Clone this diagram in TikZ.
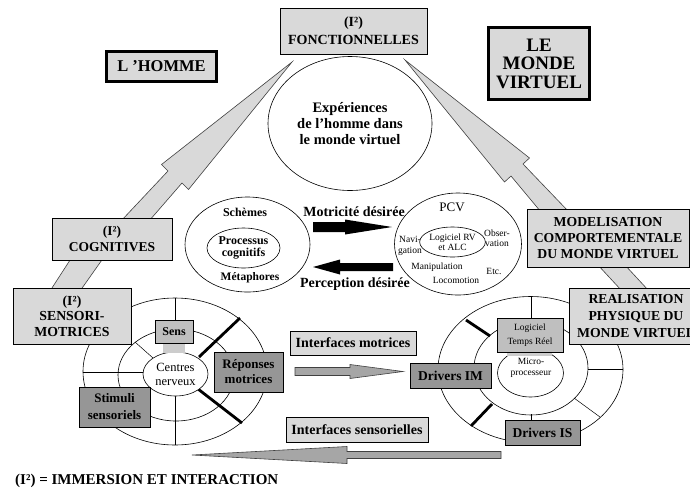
\documentclass[tikz,border=0pt]{standalone}
\usepackage{fontspec}
\setmainfont{Liberation Serif}
\usetikzlibrary{shapes.geometric}
\definecolor{boxlight}{HTML}{D9D9D9}
\definecolor{boxmid}{HTML}{BFBFBF}
\definecolor{boxstrip}{HTML}{CCCCCC}
\definecolor{boxdark}{HTML}{969696}
\definecolor{arrowgray}{HTML}{A6A6A6}
\definecolor{edgegray}{HTML}{404040}
\begin{document}
\begin{tikzpicture}[x=1pt,y=-1pt,
  box/.style={draw=black, line width=0.8pt, fill=boxlight, inner sep=0pt, align=center},
  midbox/.style={box, fill=boxmid},
  darkbox/.style={box, fill=boxdark},
  heavybox/.style={box, line width=3pt},
  ring/.style={draw=black, line width=0.6pt, ellipse, inner sep=0pt, align=center},
  bigarrow/.style={draw=edgegray, line width=0.6pt, fill=boxlight},
  grayarrow/.style={draw=edgegray, line width=0.6pt, fill=arrowgray},
  spoke/.style={draw=black, line width=0.5pt},
  heavyspoke/.style={draw=black, line width=2.8pt},
  fb/.style 2 args={font=\fontsize{#1}{#2}\selectfont\bfseries, align=center},
  fr/.style 2 args={font=\fontsize{#1}{#2}\selectfont, align=center},
]
\useasboundingbox (0,0) rectangle (690,496);
\fill[white] (0,0) rectangle (690,496);

% big arrows and strips
\draw[bigarrow] (121,221) -- (168,171) -- (161.5,164.5) -- (292,62) -- (188.5,189.5) -- (182,183) -- (149,221) -- cycle;
\draw[bigarrow] (541,212) -- (511,176) -- (504.5,182) -- (405,60) -- (529.5,158) -- (523,164) -- (569,212) -- cycle;
\draw[bigarrow] (50,291) -- (72,257) -- (104,257) -- (80,291) -- cycle;
\draw[bigarrow] (597,264) -- (624,264) -- (649,291) -- (622,291) -- cycle;

% top ellipse
\node[ring, minimum width=164, minimum height=134, fb={14.5}{16}] (exp) at (350,123.5) {Expériences\\de l’homme dans\\le monde virtuel};

% middle ellipses
\node[ring, minimum width=125, minimum height=95] (sch) at (247.5,244.5) {};
\node[ring, minimum width=73, minimum height=40, fb={12}{12}] (proc) at (243.5,248) {Processus\\cognitifs};
\node[fb={12}{12}] (schemes) at (245,212) {Schèmes};
\node[fb={11.5}{12}] (metaph) at (250,278) {Métaphores};

\node[ring, minimum width=127, minimum height=102] (pcv) at (458,244) {};
\node[ring, minimum width=55, minimum height=30, fr={9.5}{10}] (lrv) at (452.5,242) {Logiciel RV\\et ALC};
\node[fr={13}{13}] (pcvt) at (452,207) {PCV};
\node[fr={9.5}{10.5}] (navi) at (410,246) {Navi-\\gation};
\node[fr={9.5}{10.5}] (obser) at (497,238) {Obser-\\vation};
\node[fr={9.5}{10}] (manip) at (437,267) {Manipulation};
\node[fr={9.5}{10}] (etc) at (494,271) {Etc.};
\node[fr={9.5}{10}] (locom) at (456,280) {Locomotion};

% black arrows
\fill[black] (313,222) -- (345,222) -- (345,219.5) -- (392,227) -- (345,234.5) -- (345,232) -- (313,232) -- cycle;
\fill[black] (393,263) -- (340,263) -- (340,259.5) -- (313,267) -- (340,274.5) -- (340,271) -- (393,271) -- cycle;
\node[fb={14}{14}] (motric) at (354,212) {Motricité désirée};
\node[fb={14}{14}] (percep) at (355,284) {Perception désirée};

% left wheel
\node[ring, minimum width=184, minimum height=147] (louter) at (175,371.5) {};
\node[ring, minimum width=116, minimum height=92] (lmid) at (176,375) {};
\draw[spoke] (175,298) -- (175,321);
\draw[spoke] (175,396) -- (175,445);
\draw[spoke] (83,372) -- (144,372);
\draw[spoke] (135,342) -- (153,358);
\draw[spoke] (128,400) -- (150,387);
\draw[heavyspoke] (199,357) -- (240,318);
\draw[heavyspoke] (198,389) -- (242,423);
\node[ring, fill=white, minimum width=65, minimum height=44, fr={12.5}{14}] (linner) at (175.5,374) {Centres\\nerveux};
\fill[boxstrip] (163,343) rectangle (185,352.5);

% right wheel
\node[ring, minimum width=185, minimum height=146] (router) at (530.5,369.5) {};
\node[ring, minimum width=114, minimum height=94] (rmid) at (531,368) {};
\draw[spoke] (531,296) -- (531,319);
\draw[spoke] (588,369) -- (623,369);
\draw[spoke] (574,398) -- (600,417);
\draw[spoke] (531,414) -- (531,421);
\draw[heavyspoke] (466,320) -- (490,336);
\draw[heavyspoke] (471,426) -- (492,404);
\node[ring, fill=white, minimum width=66, minimum height=48] (rinner) at (530.5,373) {};
\node[fr={9.5}{11}] (microt) at (531,367.5) {Micro-\\processeur};
\fill[boxstrip] (507,351) rectangle (552,356);

% gray arrows
\draw[grayarrow] (295,367.5) -- (350,367.5) -- (350,364.5) -- (403,371.5) -- (350,378.5) -- (350,375.5) -- (295,375.5) -- cycle;
\draw[grayarrow] (501,451.5) -- (347,451.5) -- (347,446.5) -- (192,455) -- (347,463.5) -- (347,458.5) -- (501,458.5) -- cycle;

% boxes
\node[box, fb={14}{18}, minimum width=147, minimum height=46] (fonc) at (353.5,31) {(I²)\\FONCTIONNELLES};
\node[heavybox, fb={16.5}{18}, minimum width=110, minimum height=30] (homme) at (161.5,66.5) {L ’HOMME};
\node[heavybox, fb={19}{18.5}, minimum width=101, minimum height=72] (monde) at (539,63.5) {LE\\MONDE\\VIRTUEL};
\node[box, fb={13.5}{16}, minimum width=120, minimum height=42] (cogn) at (112,239) {(I²)\\COGNITIVES};
\node[box, fb={13.8}{15.5}, minimum width=118, minimum height=56] (senso) at (72,316) {(I²)\\SENSORI-\\MOTRICES};
\node[box, fb={13.7}{16}, minimum width=162, minimum height=58] (model) at (608,238) {MODELISATION\\COMPORTEMENTALE\\DU MONDE VIRTUEL};
\node[box, fb={13.7}{17}, minimum width=134, minimum height=56] (real) at (636,316) {REALISATION\\PHYSIQUE DU\\MONDE VIRTUEL};
\node[midbox, fb={12}{12}, minimum width=38, minimum height=23] (sens) at (174,331.5) {Sens};
\node[darkbox, fb={13}{15}, minimum width=69, minimum height=40] (rep) at (248.5,372) {Réponses\\motrices};
\node[darkbox, fb={13}{17}, minimum width=71, minimum height=40] (stim) at (114.5,407) {Stimuli\\sensoriels};
\node[box, fb={14}{14}, minimum width=126, minimum height=24] (intm) at (353,343) {Interfaces motrices};
\node[box, fb={14}{14}, minimum width=142, minimum height=25] (ints) at (357,429.5) {Interfaces sensorielles};
\node[darkbox, fb={13.5}{14}, minimum width=81, minimum height=25] (drim) at (450.5,375.5) {Drivers IM};
\node[midbox, fr={9.5}{14}, minimum width=66, minimum height=34] (logi) at (530,335) {Logiciel\\Temps Réel};
\node[darkbox, fb={13.5}{14}, minimum width=75, minimum height=25] (dris) at (542.5,432.5) {Drivers IS};

\node[fb={15}{15}, anchor=west, inner sep=0pt] (legend) at (15,481) {(I²) = IMMERSION ET INTERACTION};
\end{tikzpicture}
\end{document}
